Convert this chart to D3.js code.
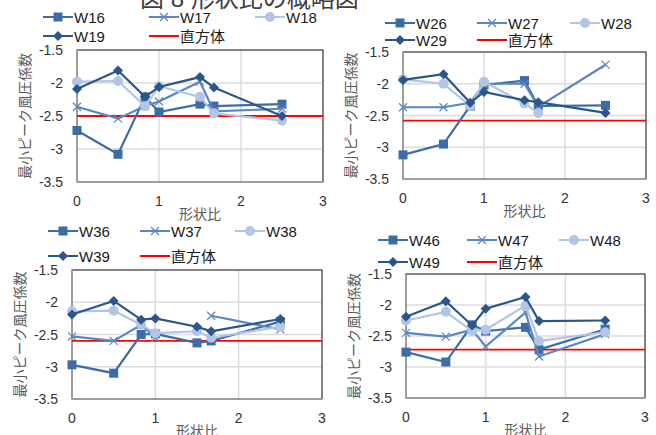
<!DOCTYPE html>
<html>
<head>
<meta charset="utf-8">
<script src="https://cdn.jsdelivr.net/npm/d3@7"></script>
<style>
  body { margin: 0; background: #fff; }
  svg text { font-family: "Liberation Sans", Arial, "Noto Sans CJK JP", sans-serif; }
</style>
</head>
<body>
<div id="chart"></div>
<script>
// shape ratio values on the x axis
const xVals = [0, 0.5, 0.83, 1, 1.5, 1.67, 2.5];
const xTicks = [0, 1, 2, 3];
const yTicks = [-1.5, -2, -2.5, -3, -3.5];
const yTickLabels = ["-1.5", "-2", "-2.5", "-3", "-3.5"];

// panel 1
const w16 = [-2.72, -3.08, -2.21, -2.44, -2.32, -2.35, -2.32];
const w17 = [-2.36, -2.54, -2.35, -2.28, -1.98, -2.43, -2.39];
const w18 = [-1.98, -1.97, -2.35, -2.05, -2.21, -2.46, -2.57];
const w19 = [-2.09, -1.81, -2.21, -2.06, -1.91, -2.07, -2.50];
// panel 2
const w26 = [-3.12, -2.95, -2.35, -2.02, -1.95, -2.35, -2.34];
const w27 = [-2.37, -2.37, -2.30, -2.00, -2.00, -2.36, -1.70];
const w28 = [-1.93, -2.00, -2.35, -1.97, -2.31, -2.46, null];
const w29 = [-1.94, -1.85, -2.30, -2.13, -2.26, -2.29, -2.46];
// panel 3
const w36 = [-2.97, -3.10, -2.50, -2.49, -2.63, -2.60, -2.30];
const w37 = [-2.53, -2.60, -2.35, -2.55, null, -2.21, -2.42];
const w38 = [-2.14, -2.13, -2.35, -2.48, -2.45, -2.55, -2.38];
const w39 = [-2.19, -1.98, -2.27, -2.25, -2.38, -2.45, -2.26];
// panel 4
const w46 = [-2.76, -2.92, -2.32, -2.42, -2.36, -2.72, -2.39];
const w47 = [-2.45, -2.51, -2.40, -2.67, -2.12, -2.83, -2.47];
const w48 = [-2.25, -2.11, -2.42, -2.40, -2.01, -2.58, -2.44];
const w49 = [-2.19, -1.94, -2.33, -2.06, -1.87, -2.26, -2.25];

// reference level for the cube (直方体)
const cubeLevels = [-2.50, -2.58, -2.60, -2.72];

const panelNames = [
  ["W16", "W17", "W18", "W19"],
  ["W26", "W27", "W28", "W29"],
  ["W36", "W37", "W38", "W39"],
  ["W46", "W47", "W48", "W49"]
];
const panelValues = [
  [w16, w17, w18, w19],
  [w26, w27, w28, w29],
  [w36, w37, w38, w39],
  [w46, w47, w48, w49]
];

const colors = ["#3d6ca6", "#5a86c2", "#b2c5e4", "#2c5688"];
const markers = ["square", "cross", "circle", "diamond"];

// layout of each panel (plot box + legend anchor)
const boxes = [
  { l: 77, r: 323, t: 50, b: 182, ly: 17, ly2: 36, lx: [43, 149, 255] },
  { l: 403, r: 646, t: 52, b: 179, ly: 23, ly2: 40, lx: [385, 477, 570] },
  { l: 72, r: 322, t: 270, b: 399, ly: 231, ly2: 256, lx: [48, 140, 235] },
  { l: 406, r: 645, t: 274, b: 398, ly: 240, ly2: 262, lx: [378, 467, 559] }
];

const svg = d3.select("#chart").append("svg")
  .attr("width", 656).attr("height", 435);

// title, cut off at the top
svg.append("text")
  .attr("x", 140).attr("y", 7)
  .attr("font-size", 24)
  .attr("fill", "#404040")
  .text("図 8 形状比の概略図");

function drawMarker(g, type, x, y, color) {
  if (type === "square") {
    g.append("rect").attr("x", x - 4.5).attr("y", y - 4.5)
      .attr("width", 9).attr("height", 9).attr("fill", color);
  } else if (type === "circle") {
    g.append("circle").attr("cx", x).attr("cy", y).attr("r", 5).attr("fill", color);
  } else if (type === "diamond") {
    g.append("path").attr("d", `M${x},${y - 5}L${x + 5},${y}L${x},${y + 5}L${x - 5},${y}Z`)
      .attr("fill", color);
  } else {
    g.append("path").attr("d", `M${x - 4},${y - 4}L${x + 4},${y + 4}M${x - 4},${y + 4}L${x + 4},${y - 4}`)
      .attr("stroke", color).attr("stroke-width", 1.2).attr("fill", "none");
  }
}

boxes.forEach((bx, pi) => {
  const g = svg.append("g");
  const x = d3.scaleLinear().domain([0, 3]).range([bx.l, bx.r]);
  const y = d3.scaleLinear().domain([-3.5, -1.5]).range([bx.b, bx.t]);

  // gridlines
  g.selectAll(".hg").data(yTicks).enter().append("line")
    .attr("x1", bx.l).attr("x2", bx.r)
    .attr("y1", d => y(d)).attr("y2", d => y(d))
    .attr("stroke", "#dcdcdc").attr("stroke-width", 1.5);
  g.selectAll(".vg").data(xTicks).enter().append("line")
    .attr("x1", d => x(d)).attr("x2", d => x(d))
    .attr("y1", bx.t).attr("y2", bx.b)
    .attr("stroke", "#dcdcdc").attr("stroke-width", 1.5);

  // frame
  g.append("rect").attr("x", bx.l).attr("y", bx.t)
    .attr("width", bx.r - bx.l).attr("height", bx.b - bx.t)
    .attr("fill", "none").attr("stroke", "#222").attr("stroke-width", 1);
  g.append("line").attr("x1", bx.l).attr("x2", bx.l).attr("y1", bx.t).attr("y2", bx.b)
    .attr("stroke", "#a6a6a6").attr("stroke-width", 1.5);
  g.append("line").attr("x1", bx.l).attr("x2", bx.r).attr("y1", bx.b).attr("y2", bx.b)
    .attr("stroke", "#a6a6a6").attr("stroke-width", 1.5);

  // tick labels
  g.selectAll(".yt").data(yTicks).enter().append("text")
    .attr("x", bx.l - 14).attr("y", d => y(d) + 5)
    .attr("text-anchor", "end").attr("font-size", 14).attr("fill", "#333")
    .text((d, i) => yTickLabels[i]);
  g.selectAll(".xt").data(xTicks).enter().append("text")
    .attr("x", d => x(d)).attr("y", bx.b + 24)
    .attr("text-anchor", "middle").attr("font-size", 14).attr("fill", "#333")
    .text(d => d);

  // axis titles
  g.append("text")
    .attr("x", (bx.l + bx.r) / 2).attr("y", bx.b + 37)
    .attr("text-anchor", "middle").attr("font-size", 14).attr("fill", "#595959")
    .text("形状比");
  g.append("text")
    .attr("transform", `translate(${bx.l - 47},${(bx.t + bx.b) / 2}) rotate(-90)`)
    .attr("text-anchor", "middle").attr("font-size", 14).attr("fill", "#595959")
    .text("最小ピーク風圧係数");

  // cube reference line
  g.append("line")
    .attr("x1", x(0)).attr("x2", x(3))
    .attr("y1", y(cubeLevels[pi])).attr("y2", y(cubeLevels[pi]))
    .attr("stroke", "#ff0000").attr("stroke-width", 1.8);

  // series
  const line = d3.line()
    .defined(d => d[1] !== null)
    .x(d => x(d[0])).y(d => y(d[1]));
  panelValues[pi].forEach((vals, si) => {
    const pts = xVals.map((xv, k) => [xv, vals[k]]);
    g.append("path").datum(pts)
      .attr("d", line)
      .attr("fill", "none").attr("stroke", colors[si]).attr("stroke-width", 2.2);
    pts.filter(p => p[1] !== null).forEach(p => drawMarker(g, markers[si], x(p[0]), y(p[1]), colors[si]));
  });

  // legend
  const lg = svg.append("g");
  const items = [
    { name: panelNames[pi][0], si: 0, lx: bx.lx[0], ly: bx.ly },
    { name: panelNames[pi][1], si: 1, lx: bx.lx[1], ly: bx.ly },
    { name: panelNames[pi][2], si: 2, lx: bx.lx[2], ly: bx.ly },
    { name: panelNames[pi][3], si: 3, lx: bx.lx[0], ly: bx.ly2 },
    { name: "直方体", si: -1, lx: bx.lx[1], ly: bx.ly2 }
  ];
  items.forEach(it => {
    const c = it.si < 0 ? "#ff0000" : colors[it.si];
    lg.append("line").attr("x1", it.lx).attr("x2", it.lx + 30)
      .attr("y1", it.ly).attr("y2", it.ly)
      .attr("stroke", c).attr("stroke-width", 2);
    if (it.si >= 0) drawMarker(lg, markers[it.si], it.lx + 15, it.ly, c);
    lg.append("text").attr("x", it.lx + 31).attr("y", it.ly + 5.5)
      .attr("font-size", 15).attr("fill", "#1a1a1a")
      .text(it.name);
  });
});
</script>
</body>
</html>
